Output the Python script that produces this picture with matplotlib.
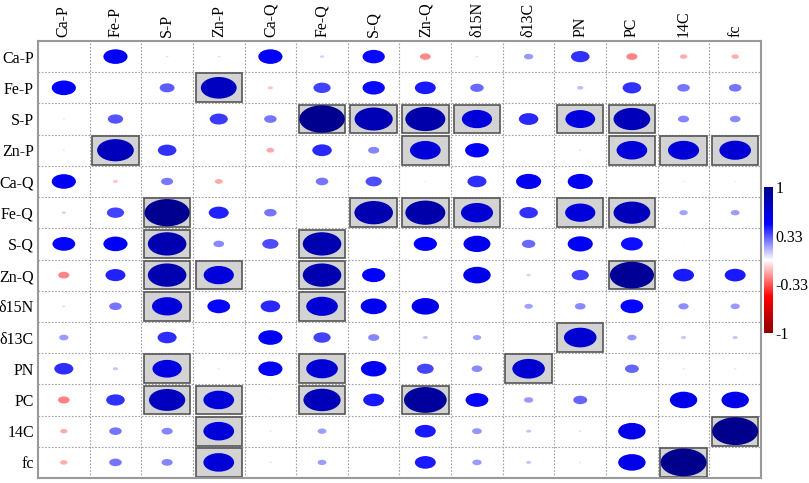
import matplotlib
matplotlib.use("Agg")
import matplotlib.pyplot as plt
from matplotlib.patches import Ellipse, Rectangle
from matplotlib.colors import LinearSegmentedColormap, Normalize
from matplotlib.cm import ScalarMappable
import numpy as np

labels = ["Ca-P", "Fe-P", "S-P", "Zn-P", "Ca-Q", "Fe-Q", "S-Q", "Zn-Q",
          "δ15N", "δ13C", "PN", "PC", "14C", "fc"]

corr = [
    [1.00, 0.52, 0.06, 0.06, 0.52, 0.09, 0.48, -0.23, 0.06, 0.20, 0.40, -0.24, -0.16, -0.16],
    [0.52, 1.00, 0.32, 0.77, -0.11, 0.37, 0.48, 0.45, 0.29, 0.03, 0.13, 0.40, 0.27, 0.27],
    [0.05, 0.33, 1.00, 0.39, 0.27, 0.98, 0.82, 0.86, 0.65, 0.42, 0.64, 0.79, 0.24, 0.23],
    [0.05, 0.79, 0.40, 1.00, -0.17, 0.42, 0.24, 0.66, 0.51, 0.00, -0.06, 0.66, 0.67, 0.68],
    [0.52, -0.11, 0.26, -0.17, 1.00, 0.27, 0.35, 0.04, 0.41, 0.54, 0.54, 0.03, 0.05, 0.04],
    [0.09, 0.37, 0.97, 0.43, 0.27, 1.00, 0.83, 0.86, 0.69, 0.40, 0.65, 0.79, 0.18, 0.19],
    [0.49, 0.52, 0.83, 0.23, 0.35, 0.83, 1.00, 0.50, 0.58, 0.29, 0.54, 0.47, 0.03, 0.02],
    [-0.24, 0.43, 0.83, 0.65, 0.02, 0.83, 0.50, 1.00, 0.59, 0.09, 0.37, 0.95, 0.45, 0.45],
    [0.07, 0.27, 0.65, 0.49, 0.42, 0.68, 0.56, 0.59, 1.00, 0.18, 0.23, 0.49, 0.22, 0.20],
    [0.20, -0.03, 0.41, 0.00, 0.52, 0.37, 0.24, 0.11, 0.18, 1.00, 0.70, 0.20, 0.11, 0.11],
    [0.41, 0.11, 0.63, -0.06, 0.52, 0.68, 0.55, 0.36, 0.23, 0.70, 1.00, 0.30, -0.06, -0.06],
    [-0.25, 0.40, 0.78, 0.66, -0.04, 0.80, 0.45, 0.92, 0.49, 0.20, 0.30, 1.00, 0.59, 0.59],
    [-0.16, 0.27, 0.24, 0.66, 0.05, 0.19, 0.03, 0.45, 0.21, 0.11, -0.06, 0.59, 1.00, 0.99],
    [-0.16, 0.27, 0.24, 0.66, 0.05, 0.19, 0.02, 0.45, 0.20, 0.11, -0.06, 0.59, 0.99, 1.00],
]

significant = [
    ("Fe-P", "Zn-P"),
    ("S-P", "Fe-Q"), ("S-P", "S-Q"), ("S-P", "Zn-Q"), ("S-P", "δ15N"), ("S-P", "PN"), ("S-P", "PC"),
    ("Zn-P", "Fe-P"), ("Zn-P", "Zn-Q"), ("Zn-P", "PC"), ("Zn-P", "14C"), ("Zn-P", "fc"),
    ("Fe-Q", "S-P"), ("Fe-Q", "S-Q"), ("Fe-Q", "Zn-Q"), ("Fe-Q", "δ15N"), ("Fe-Q", "PN"), ("Fe-Q", "PC"),
    ("S-Q", "S-P"), ("S-Q", "Fe-Q"),
    ("Zn-Q", "S-P"), ("Zn-Q", "Zn-P"), ("Zn-Q", "Fe-Q"), ("Zn-Q", "PC"),
    ("δ15N", "S-P"), ("δ15N", "Fe-Q"),
    ("δ13C", "PN"),
    ("PN", "S-P"), ("PN", "Fe-Q"), ("PN", "δ13C"),
    ("PC", "S-P"), ("PC", "Zn-P"), ("PC", "Fe-Q"), ("PC", "Zn-Q"),
    ("14C", "Zn-P"), ("14C", "fc"),
    ("fc", "Zn-P"), ("fc", "14C"),
]

cbar_ticks = [-1, -0.33, 0.33, 1]
cbar_ticklabels = ["-1", "-0.33", "0.33", "1"]

cmap = LinearSegmentedColormap.from_list(
    "rb", ["#8b0000", "#ff0000", "#ffffff", "#0000ff", "#00008b"])
norm = Normalize(-1, 1)

serif = ["Liberation Serif", "DejaVu Serif"]
fs = 11.5
fig = plt.figure(figsize=(8.09, 4.83), dpi=100)
ax = fig.add_axes([38 / 809, 5 / 483, 723 / 809, 437 / 483])
n = len(labels)
ax.set_xlim(-0.5, n - 0.5)
ax.set_ylim(n - 0.5, -0.5)

# grid
for k in range(1, n):
    ax.axvline(k - 0.5, color="#a0a0a0", lw=0.8, ls=(0, (1.5, 1.5)), zorder=0)
    ax.axhline(k - 0.5, color="#a0a0a0", lw=0.8, ls=(0, (1.5, 1.5)), zorder=0)

idx = {lab: i for i, lab in enumerate(labels)}
for r, c in significant:
    i, j = idx[r], idx[c]
    ax.add_patch(Rectangle((j - 0.45, i - 0.46), 0.9, 0.92, facecolor="#d3d3d3",
                           edgecolor="#555555", lw=1.2, zorder=1))

for i in range(n):
    for j in range(n):
        if i == j:
            continue
        v = corr[i][j]
        d = 0.9 * abs(v)
        if d <= 0:
            continue
        ax.add_patch(Ellipse((j, i), d, d, facecolor=cmap(norm(v)),
                             edgecolor="none", zorder=2))

ax.xaxis.tick_top()
ax.set_xticks(range(n))
ax.set_xticklabels(labels, rotation=90, family=serif, fontsize=fs)
ax.set_yticks(range(n))
ax.set_yticklabels(labels, family=serif, fontsize=fs)
ax.tick_params(length=0, pad=3)
for s in ax.spines.values():
    s.set_color("#999999")
    s.set_linewidth(1.5)

cax = fig.add_axes([764 / 809, 150 / 483, 9 / 809, 146 / 483])
cb = fig.colorbar(ScalarMappable(norm=norm, cmap=cmap), cax=cax, ticks=cbar_ticks)
cb.set_ticklabels(cbar_ticklabels)
cb.outline.set_visible(False)
cax.tick_params(length=0, pad=2)
for t in cax.get_yticklabels():
    t.set_family(serif)
    t.set_fontsize(fs)

fig.savefig("out.png", dpi=100)
